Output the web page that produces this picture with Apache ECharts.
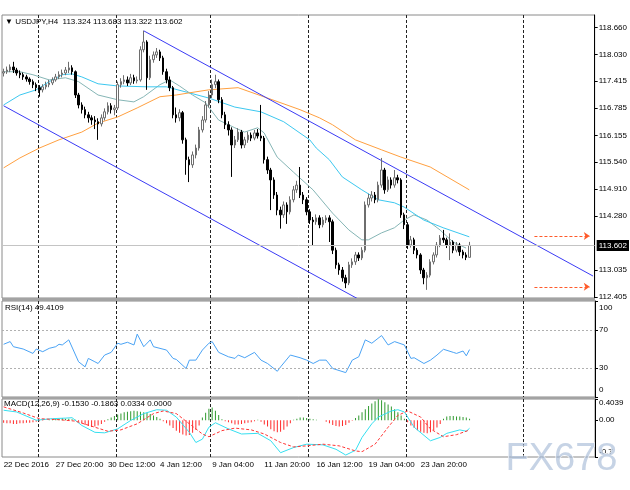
<!DOCTYPE html>
<html><head><meta charset="utf-8">
<script src="https://cdn.jsdelivr.net/npm/echarts@6/dist/echarts.min.js"></script>
<style>html,body{margin:0;padding:0;background:#fff}#c{width:630px;height:490px}</style>
</head><body><div id="c"></div><script>
// ---- data ----
const opens = [117.60,117.63,117.67,117.74,117.67,117.60,117.56,117.51,117.46,117.40,
117.33,117.26,117.21,117.28,117.33,117.37,117.44,117.51,117.56,117.60,
117.67,117.72,117.63,117.09,116.86,116.75,116.63,116.56,116.51,116.47,
116.42,116.56,116.70,116.84,116.75,116.79,117.33,117.40,117.44,117.37,
117.49,117.42,117.44,118.14,118.32,117.49,117.91,118.02,118.09,117.95,
117.63,117.44,117.26,116.63,116.56,116.68,116.05,115.59,115.47,115.70,
115.86,116.28,116.51,116.86,117.09,117.33,117.40,116.98,116.63,116.40,
116.28,115.93,116.05,116.23,115.93,116.05,116.16,116.09,116.21,116.14,
116.09,115.59,115.35,115.12,114.77,114.42,114.31,114.54,114.38,114.66,
114.89,115.00,114.77,114.66,114.38,114.19,114.15,114.24,114.08,114.19,
114.24,114.15,113.49,113.15,113.03,112.85,112.73,113.15,113.22,113.38,
113.31,113.49,114.54,114.70,114.77,114.66,115.00,115.35,114.89,115.12,
115.00,115.17,115.12,114.31,114.08,113.61,113.73,113.49,113.38,113.03,
112.85,112.91,113.22,113.38,113.61,113.77,113.73,113.61,113.68,113.49,
113.61,113.45,113.38,113.324];
const closes = [117.63,117.67,117.74,117.67,117.60,117.56,117.51,117.46,117.40,117.33,
117.26,117.21,117.28,117.33,117.37,117.44,117.51,117.56,117.60,117.67,
117.72,117.63,117.09,116.86,116.75,116.63,116.56,116.51,116.47,116.42,
116.56,116.70,116.84,116.75,116.79,117.33,117.40,117.44,117.37,117.49,
117.42,117.44,118.14,118.32,117.49,117.91,118.02,118.09,117.95,117.63,
117.44,117.26,116.63,116.56,116.68,116.05,115.59,115.47,115.70,115.86,
116.28,116.51,116.86,117.09,117.33,117.40,116.98,116.63,116.40,116.28,
115.93,116.05,116.23,115.93,116.05,116.16,116.09,116.21,116.14,116.09,
115.59,115.35,115.12,114.77,114.42,114.31,114.54,114.38,114.66,114.89,
115.00,114.77,114.66,114.38,114.19,114.15,114.24,114.08,114.19,114.24,
114.15,113.49,113.15,113.03,112.85,112.73,113.15,113.22,113.38,113.31,
113.49,114.54,114.70,114.77,114.66,115.00,115.35,114.89,115.12,115.00,
115.17,115.12,114.31,114.08,113.61,113.73,113.49,113.38,113.03,112.85,
112.91,113.22,113.38,113.61,113.77,113.73,113.61,113.68,113.49,113.61,
113.45,113.38,113.324,113.602];
const lows = [117.52,117.58,117.62,117.60,117.54,117.48,117.44,117.40,117.33,117.25,
117.18,117.05,117.15,117.22,117.27,117.32,117.40,117.46,117.50,117.55,
117.60,117.56,117.02,116.78,116.66,116.55,116.45,116.40,116.30,116.05,
116.36,116.50,116.64,116.66,116.62,116.74,117.26,117.34,117.30,117.32,
117.35,117.36,117.40,118.08,117.21,117.44,117.84,117.95,117.88,117.56,
117.36,117.18,116.55,116.45,116.48,115.96,115.24,115.07,115.40,115.62,
115.80,116.22,116.45,116.80,117.02,117.25,116.90,116.55,116.30,116.15,
115.19,115.86,116.00,115.85,115.86,115.98,116.02,116.04,116.08,116.02,
115.50,115.26,114.42,114.68,114.30,113.99,114.24,114.10,114.32,114.60,
114.82,114.70,114.56,114.30,114.10,113.61,114.08,114.00,114.02,114.12,
113.68,113.40,113.06,112.92,112.76,112.61,112.68,113.08,113.15,113.24,
113.26,113.44,114.48,114.62,114.58,114.60,114.94,114.80,114.84,114.92,
114.94,115.04,114.24,113.98,113.52,113.55,113.40,113.30,112.94,112.70,
112.57,112.86,113.16,113.32,113.56,113.66,113.54,113.26,113.42,113.44,
113.36,113.30,113.26,113.322];
const highs = [117.70,117.75,117.80,117.86,117.72,117.66,117.61,117.56,117.50,117.45,
117.38,117.32,117.34,117.40,117.44,117.50,117.58,117.64,117.68,117.74,
117.86,117.78,117.66,117.14,116.92,116.82,116.70,116.62,116.60,116.55,
116.64,116.78,116.92,116.90,116.86,117.40,117.48,117.55,117.52,117.58,
117.56,117.52,118.22,118.58,118.36,118.00,118.10,118.18,118.14,118.00,
117.70,117.52,117.30,116.80,116.76,116.72,116.10,115.66,115.78,115.94,
116.35,116.60,116.95,117.18,117.45,117.56,117.45,117.04,116.70,116.48,
116.34,116.14,116.32,116.28,116.12,116.24,116.22,116.28,116.30,116.86,
116.14,115.66,115.40,115.18,114.84,114.50,114.62,114.60,114.74,114.98,
115.10,115.42,114.84,114.72,114.44,114.26,114.32,114.30,114.26,114.30,
114.30,114.20,113.55,113.20,113.10,112.92,113.22,113.30,113.45,113.44,
113.56,114.62,114.80,114.86,114.84,115.08,115.63,115.40,115.20,115.18,
115.35,115.24,115.16,114.36,114.14,113.82,113.78,113.54,113.42,113.08,
112.98,113.28,113.44,113.68,113.84,113.96,113.78,113.88,113.72,113.68,
113.66,113.50,113.44,113.683];

// moving averages: [bar index, price]
const maFast = [[0,117.63],[5,117.63],[9,117.56],[14,117.44],[19,117.49],[23,117.40],[29,117.09],[35,116.98],[40,116.93],[43,117.05],[48,117.33],[51,117.44],[54,117.30],[58,117.09],[62,116.91],[66,116.51],[71,116.33],[74,116.23],[78,116.33],[80,116.21],[84,115.65],[89,115.30],[95,114.89],[101,114.35],[106,113.96],[110,113.73],[112,113.73],[116,113.89],[120,114.01],[123,114.19],[126,114.31],[130,114.19],[134,113.96],[138,113.68],[142,113.54]];
const maMid = [[0,116.86],[5,117.09],[10,117.21],[14,117.40],[18,117.56],[21,117.58],[24,117.51],[29,117.35],[35,117.30],[44,117.28],[50,117.28],[57,117.14],[63,117.02],[71,116.81],[79,116.70],[86,116.47],[94,116.05],[96,115.86],[100,115.59],[104,115.19],[110,114.89],[115,114.66],[120,114.59],[123,114.49],[129,114.19],[135,114.01],[143,113.80]];
const maSlow = [[0,115.40],[5,115.63],[11,115.86],[17,116.05],[24,116.23],[29,116.44],[35,116.58],[41,116.79],[48,117.05],[53,117.09],[57,117.14],[63,117.21],[72,117.26],[81,117.02],[91,116.75],[97,116.56],[101,116.40],[108,116.05],[116,115.82],[122,115.65],[131,115.42],[143,114.89]];
const channelUpper = [[43,118.58],[181,112.89]];
const channelLower = [[0,116.84],[120,111.90]];
const lastPrice = 113.602;
const orderLevels = [113.82, 112.64];
const priceTicks = [112.405,113.035,114.280,114.910,115.540,116.155,116.785,117.415,118.030,118.660];

const rsi = [[0,54.9],[2,57.7],[3,52.4],[6,50.0],[9,45.4],[10,50.0],[12,47.2],[14,50.7],[16,52.4],[17,54.9],[18,54.2],[20,59.5],[23,36.7],[25,31.4],[26,40.2],[28,36.7],[29,34.9],[31,43.7],[33,46.5],[35,56.0],[36,54.9],[38,57.0],[40,54.2],[41,65.5],[43,52.4],[45,59.5],[46,52.4],[50,48.9],[52,40.2],[53,39.1],[56,29.7],[57,38.4],[59,38.4],[61,48.9],[63,56.0],[64,57.7],[66,46.5],[69,41.9],[71,40.2],[72,43.7],[74,40.9],[77,46.5],[79,38.4],[81,34.9],[84,26.8],[85,31.4],[88,43.7],[91,40.9],[93,38.4],[95,34.9],[97,38.4],[99,38.4],[101,29.7],[105,25.4],[107,38.4],[109,41.9],[111,59.5],[113,56.0],[116,64.0],[118,54.2],[120,57.7],[123,54.2],[125,40.2],[126,40.9],[129,34.9],[131,38.4],[133,43.7],[135,49.7],[138,46.5],[139,45.4],[141,47.9],[142,42.9],[143,49.41]];
const rsiLevels = [70, 30];
const rsiTicks = [0, 30, 70, 100];
// label text and where MT4 draws it (edge labels are pulled inside the panel)
const rsiLabelText = ['0', '30', '70', '100'];
const rsiLabelAt = [7.5, 30, 70, 92.5];

const macdMain = [[0,0.19],[4,0.157],[10,0.0],[15,0.03],[19,0.04],[21,0.048],[24,-0.10],[28,-0.23],[31,-0.24],[35,-0.165],[39,-0.004],[43,0.126],[47,0.20],[50,0.19],[53,0.06],[57,-0.23],[59,-0.424],[61,-0.36],[63,-0.133],[65,-0.048],[69,-0.165],[73,-0.262],[78,-0.25],[82,-0.391],[85,-0.618],[89,-0.52],[93,-0.456],[98,-0.469],[102,-0.553],[105,-0.663],[108,-0.572],[110,-0.327],[113,-0.068],[115,0.06],[119,0.176],[121,0.20],[123,0.157],[126,-0.133],[131,-0.391],[134,-0.327],[136,-0.25],[140,-0.184],[142,-0.21],[143,-0.153]];
const macdSignal = [[0,0.254],[6,0.138],[11,0.029],[17,0.01],[22,-0.017],[28,-0.133],[32,-0.21],[36,-0.184],[41,-0.068],[46,0.126],[49,0.176],[53,0.126],[57,-0.068],[61,-0.262],[63,-0.314],[67,-0.198],[71,-0.15],[76,-0.184],[80,-0.262],[85,-0.424],[89,-0.508],[93,-0.488],[98,-0.456],[103,-0.488],[108,-0.585],[110,-0.598],[114,-0.456],[118,-0.133],[121,0.093],[124,0.176],[128,0.06],[131,-0.165],[135,-0.314],[139,-0.275],[143,-0.186]];
const macdHist = [-0.05,-0.06,-0.06,-0.07,-0.07,-0.06,-0.06,-0.05,-0.05,-0.04,-0.03,
-0.02,-0.01,0,0.01,
0.02,0.03,0.03,0.04,0.03,0.03,0.02,0.01,
-0.03,-0.06,-0.09,-0.11,-0.13,-0.12,-0.10,-0.07,-0.03,
0.02,0.05,0.08,0.11,0.13,0.15,0.16,0.17,0.18,0.17,0.16,0.15,0.14,0.12,0.09,0.06,0.03,
-0.02,-0.06,-0.10,-0.15,-0.20,-0.24,-0.27,-0.29,-0.28,-0.24,-0.18,-0.10,
0.05,0.14,0.22,0.24,0.18,0.10,
0.02,-0.02,-0.04,-0.06,-0.08,-0.08,-0.07,-0.06,-0.05,-0.04,-0.02,0.01,-0.03,
-0.08,-0.12,-0.17,-0.21,-0.23,-0.22,-0.18,-0.12,-0.06,
0.01,0.03,0.05,0.05,0.04,0.03,0.02,0.01,0,0,
-0.03,-0.06,-0.09,-0.11,-0.12,-0.11,-0.09,-0.05,-0.01,
0.04,0.09,0.15,0.21,0.27,0.32,0.36,0.40,0.38,0.34,0.30,0.26,0.21,0.15,0.09,0.03,
-0.04,-0.10,-0.15,-0.19,-0.22,-0.24,-0.25,-0.23,-0.19,-0.14,-0.07,
0.03,0.07,0.08,0.08,0.07,0.07,0.06,0.05,0.03];
const macdTicks = [0.4039, 0, -0.7];
const macdLabelText = ['0.4039', '0.00', '-0.7'];
const macdLabelAt = [0.33, 0, -0.6];

const xLabelIdx = [0,16,32,48,64,80,96,112,128];
const xLabelText = ['22 Dec 2016','27 Dec 20:00','30 Dec 12:00','4 Jan 12:00','9 Jan 04:00','11 Jan 20:00','16 Jan 12:00','19 Jan 04:00','23 Jan 20:00'];
const separatorIdx = [11,35,64,94,124,160];
const totalSlots = 182;

// ---- chart ----
const FONT = '"Liberation Sans", Arial, "DejaVu Sans", sans-serif';
const slots = Array.from({length: totalSlots}, (_, i) => i);
const candles = opens.map((o, i) => [o, closes[i], lows[i], highs[i]]);
const grids = [
  {left: 2, width: 593, top: 15, height: 283},
  {left: 2, width: 593, top: 301, height: 96},
  {left: 2, width: 593, top: 399, height: 58}
].map(g => Object.assign(g, {show: true, borderColor: '#8a8a8a', borderWidth: 1}));

const xAxes = [0, 1, 2].map(gi => ({
  type: 'category', gridIndex: gi, data: slots, boundaryGap: true,
  axisLine: {show: false}, axisTick: {show: false},
  axisLabel: gi === 2 ? {
    show: true, interval: (idx) => xLabelIdx.includes(idx), align: 'left',
    formatter: (v, idx) => xLabelText[xLabelIdx.indexOf(Number(v))] || '',
    fontSize: 8, fontFamily: FONT, color: '#000', margin: 4
  } : {show: false},
  splitLine: {show: true, interval: (idx) => separatorIdx.includes(idx),
    lineStyle: {color: '#222', type: [3, 2], width: 1}}
}));

const axisLabelBase = {fontSize: 8, fontFamily: FONT, color: '#000', margin: 4};
const pickLabel = (vals, texts) => v => {
  let best = 0;
  vals.forEach((x, k) => { if (Math.abs(x - v) < Math.abs(vals[best] - v)) best = k; });
  return texts[best];
};
const yAxes = [
  {type: 'value', gridIndex: 0, position: 'right', min: 112.381, max: 118.946, scale: true,
   axisLine: {show: true, lineStyle: {color: '#000'}},
   axisTick: {show: true, length: 3, customValues: priceTicks, lineStyle: {color: '#000'}},
   axisLabel: Object.assign({customValues: priceTicks, formatter: v => v.toFixed(3)}, axisLabelBase),
   splitLine: {show: false}},
  {type: 'value', gridIndex: 1, position: 'right', min: 0, max: 100,
   axisLine: {show: true, lineStyle: {color: '#000'}},
   axisTick: {show: true, length: 3, customValues: rsiTicks, lineStyle: {color: '#000'}},
   axisLabel: Object.assign({customValues: rsiLabelAt, formatter: pickLabel(rsiLabelAt, rsiLabelText)}, axisLabelBase),
   splitLine: {show: false}},
  {type: 'value', gridIndex: 2, position: 'right', min: -0.7, max: 0.4039,
   axisLine: {show: true, lineStyle: {color: '#000'}},
   axisTick: {show: true, length: 3, customValues: macdTicks, lineStyle: {color: '#000'}},
   axisLabel: Object.assign({customValues: macdLabelAt, formatter: pickLabel(macdLabelAt, macdLabelText)}, axisLabelBase),
   splitLine: {show: false}}
];

const lineS = (data, color, xi, extra) => Object.assign({
  type: 'line', xAxisIndex: xi, yAxisIndex: xi, data: data, showSymbol: false, symbol: 'none',
  smooth: false, clip: true, silent: true, lineStyle: {color: color, width: 1}, z: 3
}, extra || {});

const series = [
  {type: 'candlestick', xAxisIndex: 0, yAxisIndex: 0, data: candles, barWidth: 2, z: 4,
   itemStyle: {color: '#ffffff', color0: '#000000', borderColor: '#6e6e6e', borderColor0: '#000000', borderWidth: 1},
   markLine: {silent: true, symbol: ['none', 'none'], animation: false,
     lineStyle: {color: '#c4c4c4', type: 'solid', width: 1},
     label: {show: true, position: 'end', distance: 2, formatter: lastPrice.toFixed(3), backgroundColor: '#000', color: '#fff',
       fontSize: 8, fontFamily: FONT, padding: [2, 2, 1, 2]},
     data: [{yAxis: lastPrice}]}},
  lineS(maFast, '#86b6b6', 0),
  lineS(maMid, '#3cc8f0', 0),
  lineS(maSlow, '#ffa040', 0),
  lineS(channelUpper, '#3b3bf5', 0),
  lineS(channelLower, '#3b3bf5', 0),
  lineS([], '#000', 0, {markLine: {silent: true, animation: false, symbol: ['none', 'arrow'], symbolSize: [6, 6],
    lineStyle: {color: '#ff5a2a', type: [3, 2], width: 1}, label: {show: false},
    data: orderLevels.map(p => [{coord: [163, p]}, {coord: [180, p]}])}}),
  lineS(rsi, '#4aa3f5', 1, {markLine: {silent: true, animation: false, symbol: ['none', 'none'],
    lineStyle: {color: '#b0b0b0', type: [2, 2], width: 1}, label: {show: false},
    data: rsiLevels.map(v => ({yAxis: v}))}}),
  {type: 'bar', xAxisIndex: 2, yAxisIndex: 2, data: macdHist, barWidth: 1, silent: true, z: 2,
   itemStyle: {color: p => p.value >= 0 ? '#2f9a2f' : '#ff2a2a'}},
  lineS(macdMain, '#35dff0', 2),
  lineS(macdSignal, '#ff3535', 2, {lineStyle: {color: '#ff3535', width: 1, type: [3, 2]}})
];

const chart = echarts.init(document.getElementById('c'), null, {renderer: 'canvas'});
chart.setOption({
  animation: false,
  backgroundColor: '#ffffff',
  grid: grids, xAxis: xAxes, yAxis: yAxes, series: series,
  graphic: [
    {type: 'rect', left: 2, top: 298, z: 5, shape: {width: 593, height: 3}, style: {fill: '#a3a3a3'}},
    {type: 'rect', left: 2, top: 397, z: 5, shape: {width: 593, height: 2}, style: {fill: '#a3a3a3'}},
    {type: 'text', left: 5, top: 18, z: 10, style: {text: '\u25BC USDJPY,H4  113.324 113.683 113.322 113.602', fontSize: 8, fontFamily: FONT, fill: '#000'}},
    {type: 'text', left: 5, top: 304, z: 10, style: {text: 'RSI(14) 49.4109', fontSize: 8, fontFamily: FONT, fill: '#000'}},
    {type: 'text', left: 4, top: 400, z: 10, style: {text: 'MACD(12,26,9) -0.1530 -0.1863 0.0334 0.0000', fontSize: 8, fontFamily: FONT, fill: '#000'}},
    {type: 'text', left: 505, top: 440, z: 20, style: {text: 'FX678', fontSize: 38, fontFamily: FONT, fill: 'rgba(160,182,212,0.6)', stroke: 'rgba(255,255,255,0.9)', lineWidth: 1}}
  ]
});
</script></body></html>
